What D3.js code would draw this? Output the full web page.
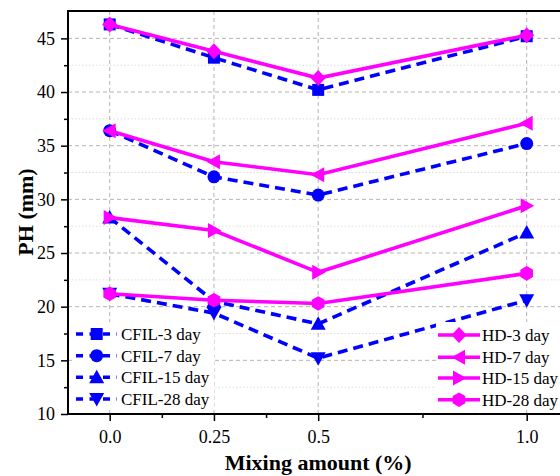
<!DOCTYPE html>
<html><head><meta charset="utf-8">
<script src="https://cdn.jsdelivr.net/npm/d3@7"></script>
<style>
body{margin:0;background:#fff}
svg{display:block}
text{font-family:"Liberation Serif","Times New Roman",serif;fill:#000}
</style>
</head><body>
<svg id="chart" width="560" height="476"></svg>
<script>
// Mixing amount (%) on the x axis
const mixing = [0, 0.25, 0.5, 1.0];
const xTickValues = [0, 0.25, 0.5, 1.0];
const xTickLabels = ["0.0", "0.25", "0.5", "1.0"];
const xMinorTicks = [0.125, 0.375, 0.75];
const yTickValues = [10, 15, 20, 25, 30, 35, 40, 45];
const yMinorTicks = [12.5, 17.5, 22.5, 27.5, 32.5, 37.5, 42.5];

// PH (mm) readings per curing age
const cfil3  = [46.3, 43.2, 40.2, 45.2];
const cfil7  = [36.4, 32.1, 30.4, 35.2];
const cfil15 = [28.3, 20.5, 18.4, 26.9];
const cfil28 = [21.2, 19.4, 15.2, 20.6];
const hd3  = [46.3, 43.8, 41.3, 45.3];
const hd7  = [36.4, 33.5, 32.3, 37.1];
const hd15 = [28.3, 27.1, 23.2, 29.4];
const hd28 = [21.2, 20.6, 20.3, 23.1];

const cfilNames = ["CFIL-3 day", "CFIL-7 day", "CFIL-15 day", "CFIL-28 day"];
const hdNames = ["HD-3 day", "HD-7 day", "HD-15 day", "HD-28 day"];

const BLUE = "#0000ff", MAGENTA = "#ff00ff";

const cfilSeries = [
  {name: cfilNames[0], values: cfil3,  shape: "square"},
  {name: cfilNames[1], values: cfil7,  shape: "circle"},
  {name: cfilNames[2], values: cfil15, shape: "triUp"},
  {name: cfilNames[3], values: cfil28, shape: "triDown"}
];
const hdSeries = [
  {name: hdNames[0], values: hd3,  shape: "diamond"},
  {name: hdNames[1], values: hd7,  shape: "triLeft"},
  {name: hdNames[2], values: hd15, shape: "triRight"},
  {name: hdNames[3], values: hd28, shape: "hexagon"}
];

const svg = d3.select("#chart");
const L = 68, T = 11, B = 414;
const x = d3.scaleLinear().domain([-0.1, 1.1]).range([L, L + 417 * 1.2]);
const y = d3.scaleLinear().domain([10, 47.55]).range([B, T]);
const R = x.range()[1];

// marker outlines
function shapePath(shape) {
  const poly = pts => "M" + pts.map(p => p.join(",")).join("L") + "Z";
  switch (shape) {
    case "square": return poly([[-6,-6],[6,-6],[6,6],[-6,6]]);
    case "circle": return "M6.5,0A6.5,6.5 0 1,1 -6.5,0A6.5,6.5 0 1,1 6.5,0Z";
    case "triUp": return poly([[0,-7.5],[7.5,6],[-7.5,6]]);
    case "triDown": return poly([[0,7.5],[7.5,-6],[-7.5,-6]]);
    case "diamond": return poly([[0,-8],[7.5,0],[0,8],[-7.5,0]]);
    case "triLeft": return poly([[-7.5,0],[6,-7.5],[6,7.5]]);
    case "triRight": return poly([[7.5,0],[-6,-7.5],[-6,7.5]]);
    case "hexagon": return poly(d3.range(6).map(i => {
      const a = Math.PI / 3 * i - Math.PI / 2;
      return [7.3 * Math.cos(a), 7.3 * Math.sin(a)];
    }));
  }
}

// grid
const grid = svg.append("g");
grid.selectAll(".ym").data(yMinorTicks).join("line")
  .attr("x1", L).attr("x2", R).attr("y1", d => y(d)).attr("y2", d => y(d))
  .attr("stroke", "#dcdcdc").attr("stroke-width", 1).attr("stroke-dasharray", "1.5,2");
grid.selectAll(".yM").data(yTickValues.filter(v => v > 10)).join("line")
  .attr("x1", L).attr("x2", R).attr("y1", d => y(d)).attr("y2", d => y(d))
  .attr("stroke", "#b4b4b4").attr("stroke-width", 1).attr("stroke-dasharray", "4,3");
grid.selectAll(".xM").data(xTickValues).join("line")
  .attr("y1", T).attr("y2", B).attr("x1", d => x(d)).attr("x2", d => x(d))
  .attr("stroke", "#b4b4b4").attr("stroke-width", 1).attr("stroke-dasharray", "4,3");

// data lines and markers
const line = d3.line().x((d, i) => x(mixing[i])).y(d => y(d));
function drawSeries(list, color, dashed) {
  const g = svg.append("g");
  list.forEach(s => {
    g.append("path").attr("d", line(s.values)).attr("fill", "none")
      .attr("stroke", color).attr("stroke-width", 3.6)
      .attr("stroke-dasharray", dashed ? "10,6" : null);
    g.selectAll(null).data(s.values).join("path")
      .attr("d", shapePath(s.shape))
      .attr("transform", (d, i) => `translate(${x(mixing[i])},${y(d)})`)
      .attr("fill", color);
  });
}
drawSeries(cfilSeries, BLUE, true);
drawSeries(hdSeries, MAGENTA, false);

// legends
function drawLegend(list, color, dashed, box, lx0, lx1, mx, tx, rows) {
  const g = svg.append("g");
  g.append("rect").attr("x", box[0]).attr("y", box[1]).attr("width", box[2]).attr("height", box[3]).attr("fill", "#fff");
  list.forEach((s, i) => {
    const ry = rows[i];
    g.append("line").attr("x1", lx0).attr("x2", lx1).attr("y1", ry).attr("y2", ry)
      .attr("stroke", color).attr("stroke-width", 3.6)
      .attr("stroke-dasharray", dashed ? "7,6.5" : null);
    g.append("path").attr("d", shapePath(s.shape)).attr("transform", `translate(${mx},${ry})`).attr("fill", color);
    g.append("text").attr("x", tx).attr("y", ry).attr("dy", "0.35em")
      .attr("font-size", 17).text(s.name);
  });
}
drawLegend(cfilSeries, BLUE, true, [72, 322, 142, 88], 76, 117, 96.7, 121, [334, 355.7, 377.3, 399]);
drawLegend(hdSeries, MAGENTA, false, [436, 322, 140, 88], 438, 480, 459, 482, [335, 357.3, 378, 399.7]);

// axes
const yAxis = svg.append("g").attr("transform", `translate(${L},0)`)
  .call(d3.axisLeft(y).tickValues(yTickValues).tickSize(7).tickPadding(6).tickFormat(d3.format("d")));
svg.append("g").attr("transform", `translate(${L},0)`)
  .call(d3.axisLeft(y).tickValues(yMinorTicks).tickSize(4).tickFormat(""))
  .call(g => g.select(".domain").remove());

const xAxis = svg.append("g").attr("transform", `translate(0,${B})`)
  .call(d3.axisBottom(x).tickValues(xTickValues).tickSize(7).tickPadding(9)
    .tickFormat((d, i) => xTickLabels[i]));
svg.append("g").attr("transform", `translate(0,${B})`)
  .call(d3.axisBottom(x).tickValues(xMinorTicks).tickSize(4).tickFormat(""))
  .call(g => g.select(".domain").remove());

[yAxis, xAxis].forEach(a => {
  a.select(".domain").remove();
  a.selectAll(".tick text").attr("font-size", 18).attr("font-family", "Liberation Serif");
});
svg.selectAll(".tick line").attr("stroke", "#000").attr("stroke-width", 1.5);

// frame
svg.append("path").attr("d", `M${L},${T}H${R}V${B}H${L}Z`)
  .attr("fill", "none").attr("stroke", "#000").attr("stroke-width", 2);

// axis titles
svg.append("text").attr("transform", `translate(33,212) rotate(-90)`)
  .attr("text-anchor", "middle").attr("font-size", 22).attr("font-weight", "bold").text("PH (mm)");
svg.append("text").attr("x", (L + R) / 2).attr("y", 470)
  .attr("text-anchor", "middle").attr("font-size", 22).attr("font-weight", "bold").text("Mixing amount (%)");
</script>
</body></html>
